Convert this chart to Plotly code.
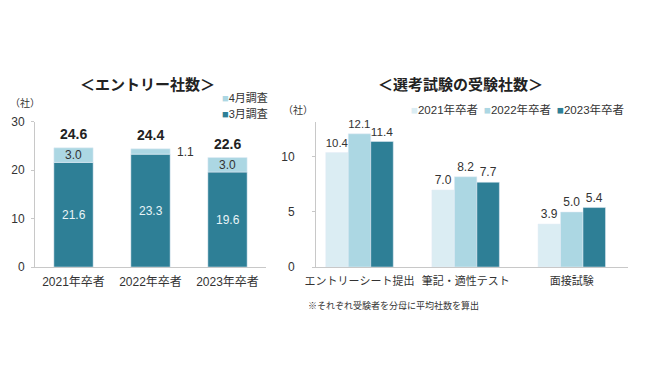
import plotly.graph_objects as go

# ---- data ----
grad_years = ["2021年卒者", "2022年卒者", "2023年卒者"]
march_vals = [21.6, 23.3, 19.6]
april_vals = [3.0, 1.1, 3.0]
entry_totals = [24.6, 24.4, 22.6]

exam_types = ["エントリーシート提出", "筆記・適性テスト", "面接試験"]
exam_2021 = [10.4, 7.0, 3.9]
exam_2022 = [12.1, 8.2, 5.0]
exam_2023 = [11.4, 7.7, 5.4]

left_title = "＜エントリー社数＞"
right_title = "＜選考試験の受験社数＞"
unit_label = "（社）"
note_text = "※それぞれ受験者を分母に平均社数を算出"

DARK = "#2e7f96"
LIGHT = "#acd7e3"
PALE = "#dbedf3"
FONT = "Liberation Sans, Noto Sans CJK JP, sans-serif"
TXT = "#333333"

# page offset compensation (the page body adds a small margin)
OFF = 8
W, H = 650, 380


def px(x):
    return (x - OFF) / W


def py(y):
    return 1 - (y - OFF) / H


fig = go.Figure()

# ---- left: stacked bars ----
lw = 0.51
fig.add_trace(go.Bar(x=grad_years, y=march_vals, name="3月調査", marker_color=DARK,
                     width=lw, offset=-lw / 2, xaxis="x", yaxis="y", showlegend=False))
fig.add_trace(go.Bar(x=grad_years, y=april_vals, base=march_vals, name="4月調査",
                     marker_color=LIGHT, width=lw, offset=-lw / 2, xaxis="x", yaxis="y",
                     showlegend=False))

# ---- right: grouped bars ----
rw = 0.212
for vals, name, col, off in [(exam_2021, "2021年卒者", PALE, -1.5),
                             (exam_2022, "2022年卒者", LIGHT, -0.5),
                             (exam_2023, "2023年卒者", DARK, 0.5)]:
    fig.add_trace(go.Bar(x=exam_types, y=vals, name=name, marker_color=col,
                         width=rw, offset=off * rw, xaxis="x2", yaxis="y2",
                         text=[f"{v:.1f}" for v in vals], textposition="outside",
                         textfont=dict(size=12, color=TXT, family=FONT),
                         cliponaxis=False, showlegend=False))

annotations = []
# left labels
for i, (m, a, t) in enumerate(zip(march_vals, april_vals, entry_totals)):
    annotations.append(dict(x=i, y=m / 2, xref="x", yref="y", text=f"{m:.1f}",
                            xanchor="center", yanchor="middle",
                            showarrow=False, font=dict(size=12, color="#e8f4f7", family=FONT)))
    if a >= 2:
        annotations.append(dict(x=i, y=m + a / 2, xref="x", yref="y", text=f"{a:.1f}",
                                xanchor="center", yanchor="middle",
                                showarrow=False, font=dict(size=12, color=TXT, family=FONT)))
    else:
        annotations.append(dict(x=i + lw / 2 + 0.06, y=t, xref="x", yref="y", text=f"{a:.1f}",
                                xanchor="left", yanchor="middle", showarrow=False, yshift=-3,
                                font=dict(size=12, color=TXT, family=FONT)))
    annotations.append(dict(x=i, y=t, xref="x", yref="y", text=f"<b>{t:.1f}</b>",
                            xanchor="center", yanchor="bottom", yshift=4, showarrow=False,
                            font=dict(size=14, color="#222222", family=FONT)))


def pa(xp, yp, text, size, xanchor="center", bold=False, color=TXT):
    return dict(x=px(xp), y=py(yp), xref="paper", yref="paper",
                text=f"<b>{text}</b>" if bold else text, showarrow=False,
                xanchor=xanchor, yanchor="middle",
                font=dict(size=size, color=color, family=FONT))


# titles and notes
annotations += [
    pa(147, 85, left_title, 15, bold=True, color="#222222"),
    pa(460, 85, right_title, 15, bold=True, color="#222222"),
    pa(8, 103, unit_label, 10, xanchor="left"),
    pa(281, 110, unit_label, 10, xanchor="left"),
    pa(306, 305, note_text, 9, xanchor="left"),
]

# left legend (annotations)
for txt, col, yp in [("4月調査", LIGHT, 98), ("3月調査", DARK, 113)]:
    annotations.append(pa(220, yp, f"<span style='color:{col}'>■</span>{txt}", 11, xanchor="left"))
# right legend
for txt, col, xp in [("2021年卒者", PALE, 409), ("2022年卒者", LIGHT, 482), ("2023年卒者", DARK, 555)]:
    annotations.append(pa(xp, 110, f"<span style='color:{col}'>■</span>{txt}", 11.5, xanchor="left"))

ydom = [py(267), py(121.7)]
axis_common = dict(showgrid=False, zeroline=False, showline=True, linecolor="#c8c8c8",
                   linewidth=1, automargin=False)
ytick = dict(ticks="outside", ticklen=3, tickcolor="#c8c8c8", tickwidth=1)

fig.update_layout(
    width=W, height=H,
    margin=dict(l=0, r=0, t=0, b=0, pad=0, autoexpand=False),
    paper_bgcolor="white", plot_bgcolor="white",
    barmode="group", annotations=annotations,
    xaxis=dict(domain=[px(35), px(266)], range=[-0.5, 2.5], anchor="y", tickangle=0, ticks="",
               ticklabelstandoff=4, tickfont=dict(size=12, color=TXT, family=FONT), **axis_common),
    yaxis=dict(domain=ydom, range=[0, 30], tickvals=[0, 10, 20, 30], anchor="x",
               ticklabelstandoff=4, tickfont=dict(size=12, color=TXT, family=FONT),
               **ytick, **axis_common),
    xaxis2=dict(domain=[px(316), px(628)], range=[-0.41, 2.53], anchor="y2", tickangle=0, ticks="",
                ticklabelstandoff=4, tickfont=dict(size=11, color=TXT, family=FONT), **axis_common),
    yaxis2=dict(domain=ydom, range=[0, 13.2], tickvals=[0, 5, 10], anchor="x2",
                ticklabelstandoff=15, tickfont=dict(size=12, color=TXT, family=FONT),
                **ytick, **axis_common),
    font=dict(family=FONT, color=TXT),
)

fig.write_html("out.html")
